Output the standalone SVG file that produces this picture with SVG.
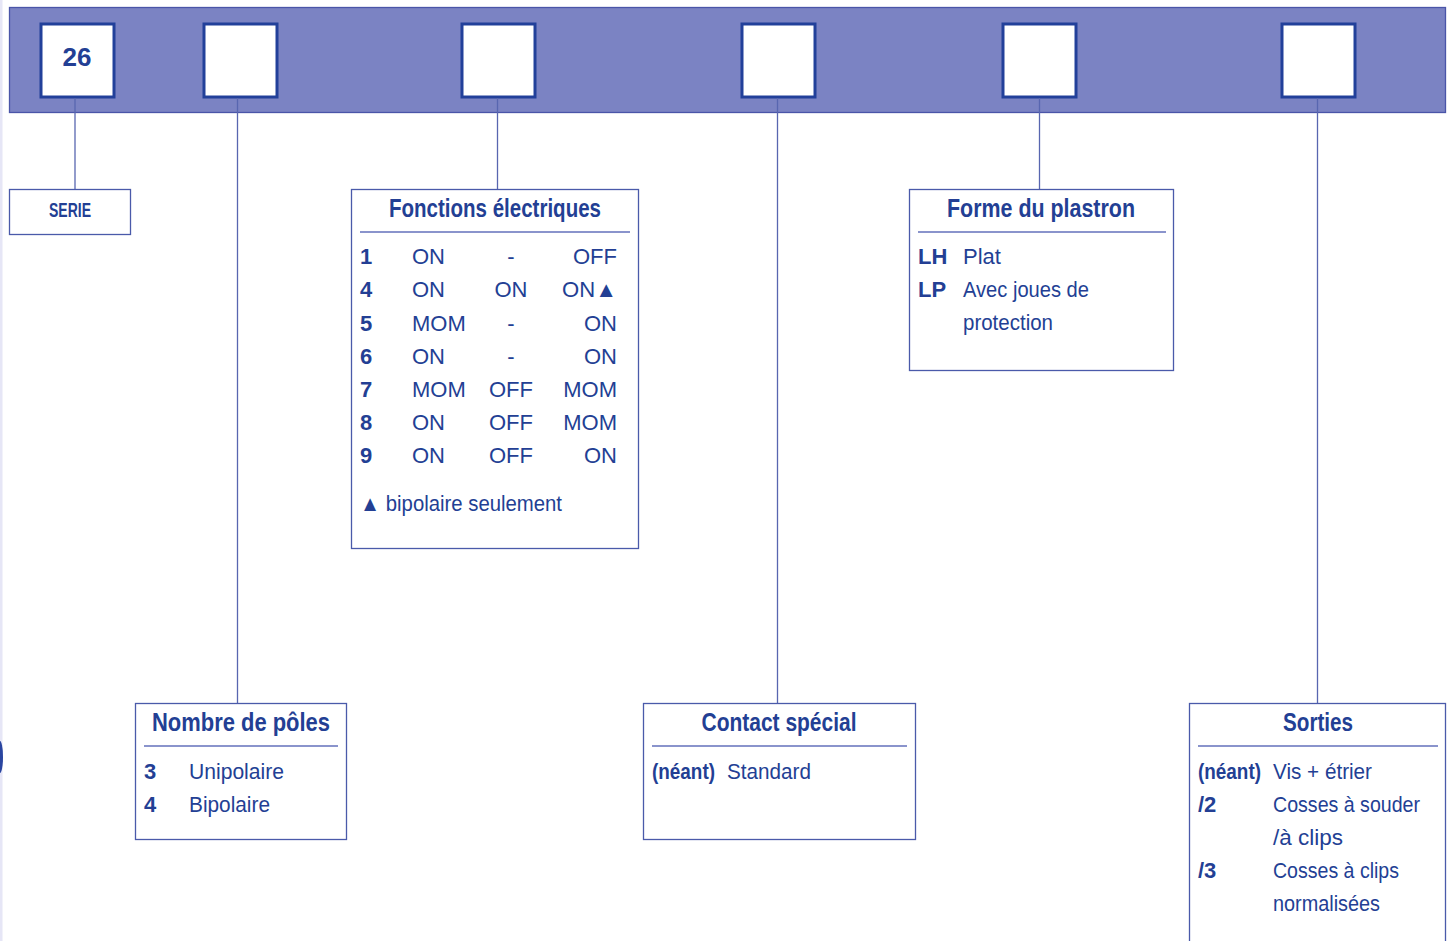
<svg xmlns="http://www.w3.org/2000/svg" width="1454" height="941" viewBox="0 0 1454 941">
<style>
text{font-family:"Liberation Sans",Arial,sans-serif;fill:#233f94}
.t{font-weight:bold;font-size:25px;text-anchor:middle}
.b{font-weight:bold;font-size:22px}
.r{font-size:22px}
.box{fill:#fff;stroke:#4a5aaa;stroke-width:1.3}
.sq{fill:#fff;stroke:#22409a;stroke-width:3}
.sep{stroke:#8a94cc;stroke-width:2}
.c{stroke:#5866b0;stroke-width:1.3;fill:none}
</style>
<rect x="0" y="0" width="1454" height="941" fill="#fff"/>
<rect x="0" y="0" width="2.5" height="941" fill="#e6e6f6"/>
<ellipse cx="0" cy="757" rx="3" ry="16" fill="#2a45a0"/>
<g id="banner">
<rect x="9.5" y="7.5" width="1436" height="105" fill="#7b83c3" stroke="#4a55a8" stroke-width="1.3"/>
<rect class="sq" x="41" y="24" width="73" height="73"/>
<text x="77" y="66" class="b" text-anchor="middle" style="font-size:26px">26</text>
<rect class="sq" x="204" y="24" width="73" height="73"/>
<rect class="sq" x="462" y="24" width="73" height="73"/>
<rect class="sq" x="742" y="24" width="73" height="73"/>
<rect class="sq" x="1003" y="24" width="73" height="73"/>
<rect class="sq" x="1282" y="24" width="73" height="73"/>
</g>
<g id="connectors">
<line class="c" x1="75" y1="98" x2="75" y2="189"/>
<line class="c" x1="237.5" y1="98" x2="237.5" y2="703"/>
<line class="c" x1="497.5" y1="98" x2="497.5" y2="189"/>
<line class="c" x1="777.5" y1="98" x2="777.5" y2="703"/>
<line class="c" x1="1039.5" y1="98" x2="1039.5" y2="189"/>
<line class="c" x1="1317.5" y1="98" x2="1317.5" y2="703"/>
</g>
<g id="serie">
<rect class="box" x="9.5" y="189.5" width="121" height="45"/>
<text x="70" y="217" class="t" style="font-size:20px" textLength="42" lengthAdjust="spacingAndGlyphs">SERIE</text>
</g>
<g id="fonctions">
<rect class="box" x="351.5" y="189.5" width="287" height="359"/>
<text x="495" y="217" class="t" textLength="212" lengthAdjust="spacingAndGlyphs">Fonctions électriques</text>
<line class="sep" x1="360" y1="232" x2="630" y2="232"/>
<text x="360" y="264" class="b">1</text><text x="360" y="297" class="b">4</text><text x="360" y="331" class="b">5</text><text x="360" y="364" class="b">6</text><text x="360" y="397" class="b">7</text><text x="360" y="430" class="b">8</text><text x="360" y="463" class="b">9</text>
<text x="412" y="264" class="r">ON</text><text x="511" y="264" class="r" text-anchor="middle">-</text><text x="617" y="264" class="r" text-anchor="end">OFF</text>
<text x="412" y="297" class="r">ON</text><text x="511" y="297" class="r" text-anchor="middle">ON</text><text x="617" y="297" class="r" text-anchor="end" textLength="55" lengthAdjust="spacingAndGlyphs">ON▲</text>
<text x="412" y="331" class="r">MOM</text><text x="511" y="331" class="r" text-anchor="middle">-</text><text x="617" y="331" class="r" text-anchor="end">ON</text>
<text x="412" y="364" class="r">ON</text><text x="511" y="364" class="r" text-anchor="middle">-</text><text x="617" y="364" class="r" text-anchor="end">ON</text>
<text x="412" y="397" class="r">MOM</text><text x="511" y="397" class="r" text-anchor="middle">OFF</text><text x="617" y="397" class="r" text-anchor="end">MOM</text>
<text x="412" y="430" class="r">ON</text><text x="511" y="430" class="r" text-anchor="middle">OFF</text><text x="617" y="430" class="r" text-anchor="end">MOM</text>
<text x="412" y="463" class="r">ON</text><text x="511" y="463" class="r" text-anchor="middle">OFF</text><text x="617" y="463" class="r" text-anchor="end">ON</text>
<text x="360" y="511" class="r" textLength="202" lengthAdjust="spacingAndGlyphs">▲ bipolaire seulement</text>
</g>
<g id="forme">
<rect class="box" x="909.5" y="189.5" width="264" height="181"/>
<text x="1041" y="217" class="t" textLength="188" lengthAdjust="spacingAndGlyphs">Forme du plastron</text>
<line class="sep" x1="918" y1="232" x2="1166" y2="232"/>
<text x="918" y="264" class="b">LH</text><text x="963" y="264" class="r">Plat</text>
<text x="918" y="297" class="b">LP</text><text x="963" y="297" class="r" textLength="126" lengthAdjust="spacingAndGlyphs">Avec joues de</text>
<text x="963" y="330" class="r" textLength="90" lengthAdjust="spacingAndGlyphs">protection</text>
</g>
<g id="poles">
<rect class="box" x="135.5" y="703.5" width="211" height="136"/>
<text x="241" y="731" class="t" textLength="178" lengthAdjust="spacingAndGlyphs">Nombre de pôles</text>
<line class="sep" x1="144" y1="746" x2="338" y2="746"/>
<text x="144" y="779" class="b">3</text><text x="189" y="779" class="r" textLength="95" lengthAdjust="spacingAndGlyphs">Unipolaire</text>
<text x="144" y="812" class="b">4</text><text x="189" y="812" class="r" textLength="81" lengthAdjust="spacingAndGlyphs">Bipolaire</text>
</g>
<g id="contact">
<rect class="box" x="643.5" y="703.5" width="272" height="136"/>
<text x="779" y="731" class="t" textLength="155" lengthAdjust="spacingAndGlyphs">Contact spécial</text>
<line class="sep" x1="652" y1="746" x2="907" y2="746"/>
<text x="652" y="779" class="b" textLength="63" lengthAdjust="spacingAndGlyphs">(néant)</text><text x="727" y="779" class="r" textLength="84" lengthAdjust="spacingAndGlyphs">Standard</text>
</g>
<g id="sorties">
<rect class="box" x="1189.5" y="703.5" width="256" height="250"/>
<text x="1318" y="731" class="t" textLength="70" lengthAdjust="spacingAndGlyphs">Sorties</text>
<line class="sep" x1="1198" y1="746" x2="1438" y2="746"/>
<text x="1198" y="779" class="b" textLength="63" lengthAdjust="spacingAndGlyphs">(néant)</text><text x="1273" y="779" class="r" textLength="99" lengthAdjust="spacingAndGlyphs">Vis + étrier</text>
<text x="1198" y="812" class="b">/2</text><text x="1273" y="812" class="r" textLength="147" lengthAdjust="spacingAndGlyphs">Cosses à souder</text>
<text x="1273" y="845" class="r" textLength="70" lengthAdjust="spacingAndGlyphs">/à clips</text>
<text x="1198" y="878" class="b">/3</text><text x="1273" y="878" class="r" textLength="126" lengthAdjust="spacingAndGlyphs">Cosses à clips</text>
<text x="1273" y="911" class="r" textLength="107" lengthAdjust="spacingAndGlyphs">normalisées</text>
</g>
</svg>
